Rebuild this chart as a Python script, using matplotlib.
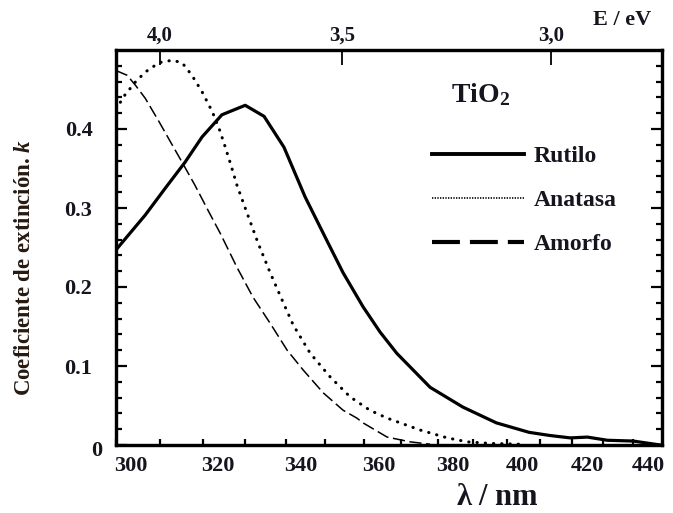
import numpy as np
import matplotlib
matplotlib.use('Agg')
import matplotlib.pyplot as plt
import matplotlib.transforms as mtransforms
from matplotlib.lines import Line2D

plt.rcParams['font.family'] = ['Liberation Serif', 'DejaVu Serif']
plt.rcParams['font.weight'] = 'bold'
plt.rcParams['mathtext.fontset'] = 'custom'
plt.rcParams['mathtext.rm'] = 'Liberation Serif:bold'
plt.rcParams['mathtext.it'] = 'Liberation Serif:italic:bold'
plt.rcParams['mathtext.bf'] = 'Liberation Serif:bold'

### extinction coefficient k of TiO2 films (wavelength in nm)
lam_rutilo = [300.0, 306.6, 311.2, 315.8, 319.8, 324.5, 330.1, 334.7, 339.6, 344.9,
              350.5, 354.6, 359.8, 364.3, 368.8, 377.9, 387.1, 396.8, 406.6, 413.0,
              419.3, 424.8, 431.3, 440.0, 449.4]
k_rutilo = [0.247, 0.291, 0.325, 0.358, 0.390, 0.418, 0.430, 0.416, 0.377, 0.314,
            0.258, 0.218, 0.175, 0.143, 0.116, 0.073, 0.048, 0.028, 0.016, 0.012,
            0.009, 0.010, 0.006, 0.005, 0.0]

lam_anatasa = [300.0, 302.0, 304.3, 306.6, 309.8, 312.8, 315.1, 317.4, 319.8, 322.2,
               323.8, 325.0, 326.5, 328.1, 330.1, 333.2, 336.2, 339.1, 341.9, 346.2,
               351.3, 356.4, 361.6, 366.2, 375.1, 382.7, 388.3, 395.0, 403.9]
k_anatasa = [0.425, 0.443, 0.459, 0.472, 0.484, 0.487, 0.484, 0.468, 0.447, 0.422,
             0.401, 0.382, 0.357, 0.329, 0.300, 0.256, 0.218, 0.184, 0.152, 0.116,
             0.086, 0.061, 0.044, 0.034, 0.019, 0.009, 0.004, 0.002, 0.001]

lam_amorfo = [300.0, 302.5, 304.3, 306.6, 309.8, 312.8, 315.1, 318.1, 321.4, 324.1,
              328.1, 332.0, 336.2, 340.4, 344.4, 349.5, 354.6, 358.2, 359.8, 366.2,
              372.4, 377.9]
k_amorfo = [0.474, 0.468, 0.456, 0.439, 0.409, 0.380, 0.358, 0.329, 0.295, 0.268,
            0.225, 0.187, 0.154, 0.120, 0.095, 0.066, 0.044, 0.034, 0.028, 0.010,
            0.004, 0.001]

names = ['Rutilo', 'Anatasa', 'Amorfo']
x_ticks = [300, 320, 340, 360, 380, 400, 420, 440]
x_minor = [310, 330, 350, 370, 390, 410, 430]
y_ticks = [0, 0.1, 0.2, 0.3, 0.4]
y_labels = ['0', '0.1', '0.2', '0.3', '0.4']
energy_ticks = [4.0, 3.5, 3.0]
energy_labels = ['4,0', '3,5', '3,0']

### wavelength axis, slightly compressed toward the red end
A, B = 4.454, -0.00544
def fwd(lam):
    u = np.asarray(lam, dtype=float) - 300.0
    return u * (A + B * u)

def inv(p):
    p = np.asarray(p, dtype=float)
    return 300.0 + (-A + np.sqrt(np.clip(A * A + 4 * B * p, 0, None))) / (2 * B)

TXT = '#15151f'

fig = plt.figure(figsize=(6.73, 5.13), dpi=100)
ax = fig.add_axes([116 / 673, 1 - 445 / 513, 546 / 673, 395 / 513])
ax.set_xscale('function', functions=(fwd, inv))
ax.set_xlim(300, 450)
ax.set_ylim(0, 0.5)

ax.plot(lam_rutilo, k_rutilo, color='black', lw=2.3, solid_joinstyle='round')
ax.plot(lam_anatasa, k_anatasa, color='black', lw=2.2,
        linestyle=(0, (0.1, 2.6)), dash_capstyle='round')
ax.plot(lam_amorfo, k_amorfo, color='black', lw=1.1, linestyle=(0, (8, 3)))

for s in ax.spines.values():
    s.set_linewidth(2.3)

ax.set_xticks(x_ticks)
ax.set_xticks(x_minor, minor=True)
ax.set_xticklabels([str(v) for v in x_ticks], fontsize=16, color=TXT)
ax.set_yticks(y_ticks)
ax.set_yticks(np.arange(0, 0.5, 0.02), minor=True)
ax.set_yticklabels(y_labels, fontsize=16, color=TXT)

ax.tick_params(axis='x', which='both', direction='in', top=False, length=4,
               width=1.6, pad=8)
ax.tick_params(axis='y', which='both', direction='in', left=True, right=True,
               width=1.6, pad=17)
ax.tick_params(axis='y', which='major', length=8)
ax.tick_params(axis='y', which='minor', length=4.5)

# nudge the x labels right, and the lone zero a bit right/down
shift = mtransforms.ScaledTranslation(0.15, 0, fig.dpi_scale_trans)
for lbl in ax.get_xticklabels():
    lbl.set_transform(lbl.get_transform() + shift)
zero = ax.get_yticklabels()[0]
zero.set_transform(zero.get_transform() +
                   mtransforms.ScaledTranslation(0.10, -0.04, fig.dpi_scale_trans))

### top axis in photon energy
ax2 = ax.twiny()
ax2.set_xscale('function', functions=(fwd, inv))
ax2.set_xlim(300, 450)
ax2.set_xticks([1239.84 / e for e in energy_ticks])
ax2.set_xticklabels(energy_labels, fontsize=15, color=TXT)
ax2.xaxis.set_minor_locator(matplotlib.ticker.NullLocator())
ax2.tick_params(axis='x', direction='in', length=11, width=1.3, pad=3)
for s in ax2.spines.values():
    s.set_linewidth(2.3)

ax.set_xlabel(r'$\mathbf{\lambda}$ / nm', fontsize=22, fontweight='bold', color=TXT)
ax.xaxis.set_label_coords(0.698, -0.095)
ax.set_ylabel(r'Coeficiente de extinción. $k$', fontsize=16.5, fontweight='bold',
              color='#261a10')
ax.yaxis.set_label_coords(-0.148, 0.45)

ax.text(0.927, 1.063, 'E / eV', transform=ax.transAxes, fontsize=16,
        ha='center', va='baseline', color=TXT)
ax.text(0.667, 0.868, r'TiO$_2$', transform=ax.transAxes, fontsize=20,
        ha='center', va='baseline', color=TXT)

handles = [Line2D([], [], color='black', lw=2.8),
           Line2D([], [], color='black', lw=1.2, linestyle=(0, (0.8, 0.8))),
           Line2D([], [], color='black', lw=3.0, linestyle=(0, (6.7, 2.4)))]
leg = ax.legend(handles, names, loc='upper left', bbox_to_anchor=(0.579, 0.758),
                frameon=False, borderaxespad=0, borderpad=0, handlelength=3.9,
                handletextpad=0.4, labelspacing=0.95,
                prop={'family': 'Liberation Serif', 'weight': 'bold', 'size': 17})
for t in leg.get_texts():
    t.set_color(TXT)

fig.savefig('out.png', dpi=100)
